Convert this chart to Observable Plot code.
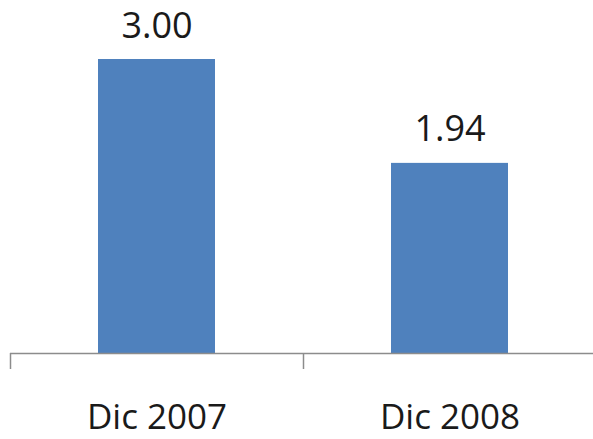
<!DOCTYPE html>
<html>
<head>
<meta charset="utf-8">
<script src="https://cdn.jsdelivr.net/npm/d3@7"></script>
<script src="https://cdn.jsdelivr.net/npm/@observablehq/plot@0.6"></script>
<style>
  html, body { margin: 0; padding: 0; background: #fff; }
  #chart svg { display: block; }
</style>
</head>
<body>
<div id="chart"></div>
<script>
const categories = ["Dic 2007", "Dic 2008"];
const values = [3.00, 1.94];

const data = categories.map((c, i) => ({category: c, value: values[i]}));
const fmt = d3.format(".2f");

const W = 593, H = 439;
const step = 293;

const chart = Plot.plot({
  width: W,
  height: H,
  marginTop: 59,
  marginBottom: 86,
  marginLeft: 10,
  marginRight: 0,
  style: {fontFamily: "'Open Sans', sans-serif", background: "#fff"},
  x: {domain: categories, range: [10, 596], paddingInner: 0.6, paddingOuter: 0.3, axis: null, label: null},
  y: {domain: [0, 3], axis: null, label: null},
  marks: [
    Plot.barY(data, {x: "category", y: "value", fill: "#4F81BD"}),
    Plot.ruleY([0], {stroke: "#8C8C8C", strokeWidth: 1.5}),
    Plot.axisX({tickSize: 16, text: null, label: null, dx: -step / 2, stroke: "#8C8C8C", strokeWidth: 1.5, tickPadding: 0}),
    Plot.axisX({tickSize: 0, tickPadding: 51, label: null, fontSize: 35, fill: "#1a1a1a", textStroke: "none"}),
    Plot.text(data, {x: "category", y: "value", text: d => fmt(d.value), lineAnchor: "bottom", dy: -22, fontSize: 36, fill: "#1a1a1a"})
  ]
});
document.getElementById("chart").appendChild(chart);
</script>
</body>
</html>
